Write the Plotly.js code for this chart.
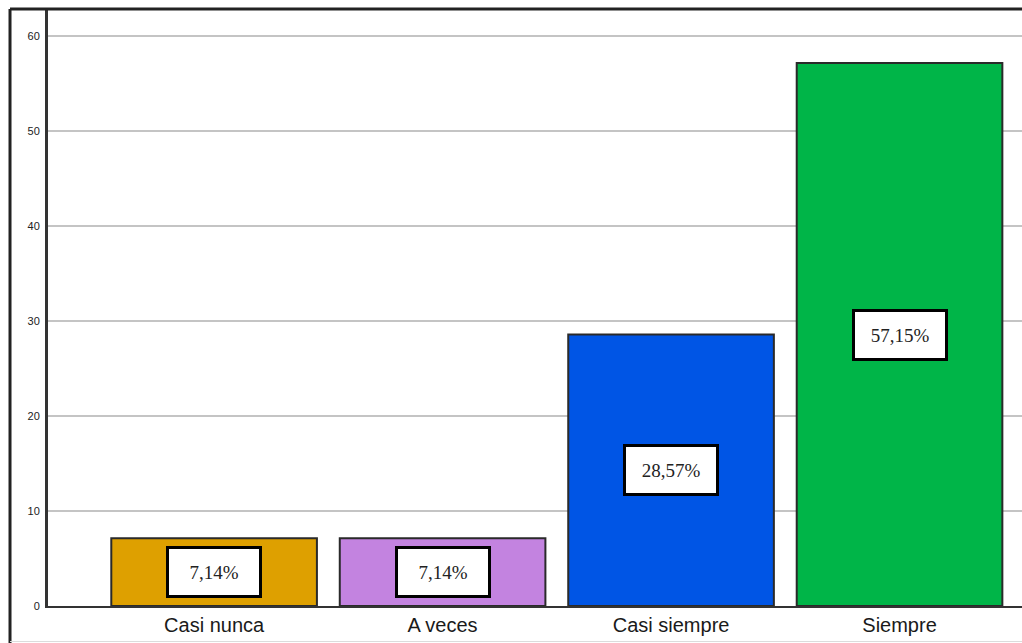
<!DOCTYPE html>
<html>
<head>
<meta charset="utf-8">
<script src="https://cdn.plot.ly/plotly-3.0.1.min.js"></script>
<style>
  html, body { margin: 0; padding: 0; background: #fff; }
  #chart { width: 1022px; height: 643px; }
</style>
</head>
<body>
<div id="chart"></div>
<script>
// DATA
var categories = ['Casi nunca', 'A veces', 'Casi siempre', 'Siempre'];
var values = [7.14, 7.14, 28.57, 57.15];
var labels = ['7,14%', '7,14%', '28,57%', '57,15%'];
var colors = ['#DEA000', '#C383E0', '#0055E5', '#00B548'];
var yTicks = [0, 10, 20, 30, 40, 50, 60];

CHART = document.getElementById('chart');

var trace1 = {
  x: categories,
  y: values,
  type: 'bar',
  width: 0.9,
  marker: {color: colors, line: {color: '#2a2a2a', width: 2}},
  hoverinfo: 'none'
};

// value boxes in the middle of each bar
var annotations = categories.map(function (c, i) {
  return {
    x: c, y: values[i] / 2, xref: 'x', yref: 'y',
    text: labels[i], showarrow: false,
    font: {family: 'Liberation Serif', size: 19, color: '#222'},
    bgcolor: '#fff', bordercolor: '#000', borderwidth: 3, borderpad: 2,
    width: 86, height: 42
  };
});

var layout = {
  width: 1022,
  height: 643,
  margin: {l: 48, r: 0, t: 9, b: 37},
  plot_bgcolor: '#fff',
  paper_bgcolor: '#fff',
  showlegend: false,
  bargap: 0.1,
  xaxis: {
    range: [-0.727, 3.536],
    showgrid: false,
    showline: true, linecolor: '#333', linewidth: 2,
    ticks: '', ticklen: 0,
    tickfont: {family: 'Liberation Sans', size: 20, color: '#1a1a1a'}
  },
  yaxis: {
    range: [0, 62.84],
    tickvals: yTicks,
    showgrid: true, gridcolor: '#c4c4c4', gridwidth: 2,
    zeroline: false,
    showline: true, linecolor: '#333', linewidth: 3,
    ticks: 'outside', ticklen: 3, tickcolor: '#fff',
    tickfont: {family: 'Liberation Sans', size: 11, color: '#222'}
  },
  annotations: annotations,
  shapes: [
    // outer frame: dark left and top edges, faint bottom edge
    {type: 'line', xref: 'paper', yref: 'paper',
     x0: -0.039, x1: -0.039, y0: -0.07, y1: 1.0,
     line: {color: '#222', width: 3}},
    {type: 'line', xref: 'paper', yref: 'paper',
     x0: -0.039, x1: 1.01, y0: 1.0, y1: 1.0,
     line: {color: '#222', width: 3}},
    {type: 'line', xref: 'paper', yref: 'paper',
     x0: -0.039, x1: 1.01, y0: -0.0595, y1: -0.0595,
     line: {color: '#dcdcdc', width: 1}}
  ]
};

Plotly.newPlot(CHART, [trace1], layout, {displayModeBar: false, staticPlot: true});
</script>
</body>
</html>
